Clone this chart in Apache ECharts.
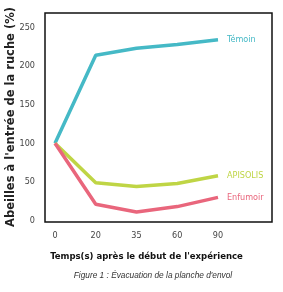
<!DOCTYPE html>
<html>
<head>
<meta charset="utf-8">
<script src="https://cdn.jsdelivr.net/npm/echarts@6/dist/echarts.min.js"></script>
<style>
  html, body { margin: 0; padding: 0; background: #fff; }
  #chart { width: 283px; height: 292px; }
</style>
</head>
<body>
<div id="chart"></div>
<script>
const temps = ['0', '20', '35', '60', '90']
const temoin = [100, 214, 223, 228, 234]
const apisolis = [100, 49, 44, 48, 58]
const enfumoir = [100, 21, 11, 18, 30]
const yTicks = [0, 50, 100, 150, 200, 250]

const narrow = '"Liberation Sans Narrow", "DejaVu Sans Condensed", sans-serif'

const line = (name, data, color) => ({
  name,
  type: 'line',
  xAxisIndex: 1,
  yAxisIndex: 1,
  data,
  symbol: 'none',
  smooth: false,
  lineStyle: { color, width: 3.5 },
  endLabel: {
    show: true,
    formatter: name,
    color,
    distance: 9,
    fontFamily: narrow,
    fontSize: 9
  },
  z: 3
})

const chart = echarts.init(document.getElementById('chart'))
chart.setOption({
  animation: false,
  grid: [
    // cadre noir
    { left: 45, top: 13, right: 11, bottom: 70, show: true, borderColor: '#111', borderWidth: 1.5, backgroundColor: 'transparent', outerBoundsMode: 'none', containLabel: false },
    // zone des données
    { left: 55, top: 27.5, right: 65, bottom: 71.5, outerBoundsMode: 'none', containLabel: false }
  ],
  xAxis: [
    { gridIndex: 0, type: 'value', show: false },
    {
      gridIndex: 1,
      type: 'category',
      data: temps,
      boundaryGap: false,
      axisLine: { show: false },
      axisTick: { show: false },
      axisLabel: { margin: 11, color: '#444', fontFamily: narrow, fontSize: 9 },
      name: "Temps(s) après le début de l'expérience",
      nameLocation: 'middle',
      nameGap: 31,
      nameMoveOverlap: false,
      nameTextStyle: { color: '#111', fontWeight: 'bold', fontFamily: '"DejaVu Sans Condensed", sans-serif', fontSize: 9.5, padding: [0, 0, 0, 20] }
    }
  ],
  yAxis: [
    { gridIndex: 0, type: 'value', show: false },
    {
      gridIndex: 1,
      type: 'value',
      min: yTicks[0],
      max: yTicks[yTicks.length - 1],
      interval: 50,
      axisLine: { show: false },
      axisTick: { show: false },
      splitLine: { show: false },
      axisLabel: { margin: 20, color: '#444', fontFamily: narrow, fontSize: 9 }
    }
  ],
  // titre de l'axe vertical
  graphic: [{
    type: 'text',
    x: 11,
    y: 117,
    rotation: Math.PI / 2,
    style: {
      text: "Abeilles à l'entrée de la ruche (%)",
      fill: '#222',
      font: 'bold 11.5px "DejaVu Sans"',
      textAlign: 'center',
      textVerticalAlign: 'middle'
    }
  }],
  title: {
    text: "Figure 1 : Évacuation de la planche d'envol",
    left: 148,
    textAlign: 'center',
    top: 267,
    textStyle: { fontSize: 8.3, fontStyle: 'italic', fontWeight: 'normal', color: '#333', fontFamily: 'Liberation Sans, Arial, sans-serif' }
  },
  series: [
    line('Témoin', temoin, '#45b9c6'),
    line('APISOLIS', apisolis, '#bfd545'),
    line('Enfumoir', enfumoir, '#e9667c')
  ]
})
</script>
</body>
</html>
